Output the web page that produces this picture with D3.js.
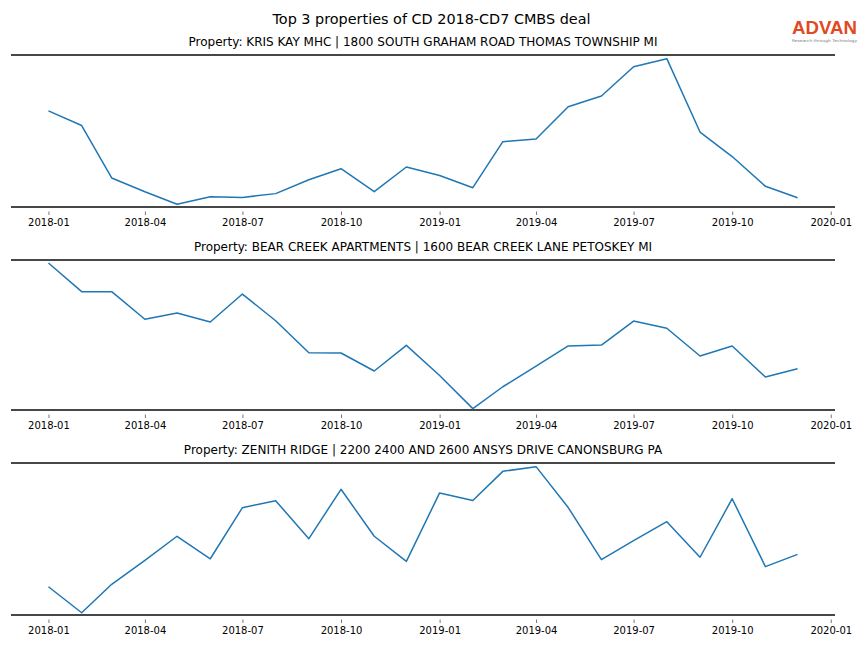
<!DOCTYPE html>
<html>
<head>
<meta charset="utf-8">
<script src="https://cdn.jsdelivr.net/npm/d3@7"></script>
<style>
  html, body { margin: 0; padding: 0; background: #fff; }
  svg { display: block; font-family: "DejaVu Sans", sans-serif; }
</style>
</head>
<body>
<svg id="chart" width="864" height="648"></svg>
<script>
// ---- data ----
const months = ["2018-01","2018-02","2018-03","2018-04","2018-05","2018-06","2018-07","2018-08","2018-09","2018-10","2018-11","2018-12",
                "2019-01","2019-02","2019-03","2019-04","2019-05","2019-06","2019-07","2019-08","2019-09","2019-10","2019-11","2019-12"];
const tickLabels = ["2018-01","2018-04","2018-07","2018-10","2019-01","2019-04","2019-07","2019-10","2020-01"];
const chartTitle = "Top 3 properties of CD 2018-CD7 CMBS deal";
const propertyTitles = [
  "Property: KRIS KAY MHC | 1800 SOUTH GRAHAM ROAD THOMAS TOWNSHIP MI",
  "Property: BEAR CREEK APARTMENTS | 1600 BEAR CREEK LANE PETOSKEY MI",
  "Property: ZENITH RIDGE | 2200 2400 AND 2600 ANSYS DRIVE CANONSBURG PA"
];
const krisKay = [63.2,53.6,19.1,10.0,1.8,6.7,6.3,8.8,17.9,25.2,10.1,26.3,20.7,12.7,43.0,44.7,66.0,73.0,92.3,97.6,49.3,33.2,13.6,6.1];
const bearCreek = [98.0,78.9,78.9,60.5,64.7,58.7,77.3,59.5,38.2,38.0,26.0,43.1,23.0,0.9,15.5,29.3,42.7,43.3,59.3,54.5,36.0,42.7,22.0,27.5];
const zenithRidge = [18.6,1.5,20.2,36.0,51.8,37.0,70.6,75.2,50.2,82.7,51.8,35.3,80.3,75.3,94.5,97.6,70.7,36.4,48.9,61.4,38.0,76.5,31.8,39.9];
const seriesList = [krisKay, bearCreek, zenithRidge];

// ---- layout ----
const svg = d3.select("#chart");
const W = 864;
const left = 11, right = 835;
const panels = [{top: 55, bottom: 207}, {top: 260, bottom: 410}, {top: 463, bottom: 615}];
const parse = d3.timeParse("%Y-%m");
const dates = months.map(parse);
const tickDates = tickLabels.map(parse);

// matplotlib-like 5% margin on the x data range
const t0 = dates[0].getTime(), t1 = dates[dates.length - 1].getTime();
const pad = (t1 - t0) * 0.05;
const x = d3.scaleTime().domain([new Date(t0 - pad), new Date(t1 + pad)]).range([left, right]);

svg.append("text")
  .attr("x", W / 2 - 0.5).attr("y", 24)
  .attr("text-anchor", "middle")
  .attr("font-size", 14.4)
  .attr("fill", "#000")
  .text(chartTitle);

// logo
const logo = svg.append("g");
logo.append("text")
  .attr("x", 824.5).attr("y", 34)
  .attr("text-anchor", "middle")
  .attr("font-size", 18.5)
  .attr("font-weight", "bold")
  .attr("font-family", "'Liberation Sans', Arial, sans-serif")
  .attr("fill", "#e2491f")
  .attr("textLength", 65)
  .attr("lengthAdjust", "spacingAndGlyphs")
  .text("ADVAN");
logo.append("text")
  .attr("x", 824.5).attr("y", 41.5)
  .attr("text-anchor", "middle")
  .attr("font-size", 3.8)
  .attr("fill", "#777")
  .attr("textLength", 65)
  .attr("lengthAdjust", "spacingAndGlyphs")
  .text("Research through Technology");

panels.forEach((p, i) => {
  const vals = seriesList[i];
  const y = d3.scaleLinear().domain([0, 100]).range([p.bottom, p.top]);
  const g = svg.append("g");

  g.append("text")
    .attr("x", (left + right) / 2) .attr("y", p.top - 9)
    .attr("text-anchor", "middle")
    .attr("font-size", 12)
    .attr("fill", "#000")
    .text(propertyTitles[i]);

  // spines (top & bottom only)
  [p.top, p.bottom].forEach(yy => {
    g.append("line")
      .attr("x1", left).attr("x2", right)
      .attr("y1", yy).attr("y2", yy)
      .attr("stroke", "#474747")
      .attr("stroke-width", 2);
  });

  const axis = d3.axisBottom(x)
    .tickValues(tickDates)
    .tickFormat(d3.timeFormat("%Y-%m"))
    .tickSize(3.5)
    .tickPadding(3.5);
  const ag = g.append("g")
    .attr("transform", `translate(0,${p.bottom + 4.5})`)
    .call(axis);
  ag.select(".domain").remove();
  ag.selectAll(".tick line").attr("stroke", "#555").attr("stroke-width", 0.8);
  ag.selectAll(".tick text")
    .attr("font-family", "'DejaVu Sans', sans-serif")
    .attr("font-size", 10)
    .attr("fill", "#000");

  const line = d3.line()
    .x((d, j) => x(dates[j]))
    .y(d => y(d));
  g.append("path")
    .datum(vals)
    .attr("d", line)
    .attr("fill", "none")
    .attr("stroke", "#1f77b4")
    .attr("stroke-width", 1.5)
    .attr("stroke-linejoin", "round");
});
</script>
</body>
</html>
